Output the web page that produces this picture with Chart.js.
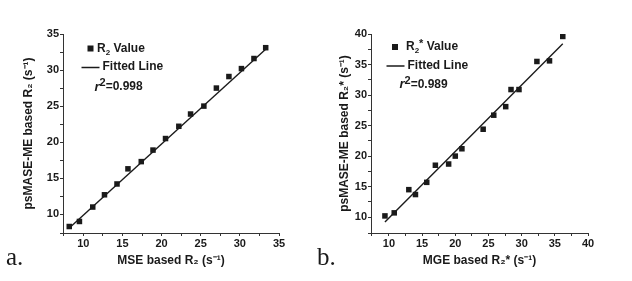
<!DOCTYPE html>
<html>
<head>
<meta charset="utf-8">
<script src="https://cdn.jsdelivr.net/npm/chart.js@4.4.1/dist/chart.umd.min.js"></script>
<style>
  html, body { margin: 0; padding: 0; background: #fff; }
  #wrap { position: relative; width: 632px; height: 281px; overflow: hidden; }
  .panel { position: absolute; top: 0; width: 316px; height: 281px; }
  .tag { position: absolute; font-family: "Liberation Serif", "DejaVu Serif", serif; font-size: 25px; color: #1a1a1a; line-height: 1; }
</style>
</head>
<body>
<div id="wrap">
  <div class="panel" style="left:0"><canvas id="chartA" width="316" height="281"></canvas></div>
  <div class="panel" style="left:316px"><canvas id="chartB" width="316" height="281"></canvas></div>
  <div class="tag" style="left:6px; top:244px">a.</div>
  <div class="tag" style="left:317px; top:244px">b.</div>
</div>
<script>
// panel a: T2 (R2) values
const mseR2 = [8.2, 9.5, 11.2, 12.7, 14.3, 15.7, 17.4, 18.9, 20.5, 22.2, 23.7, 25.4, 27.0, 28.6, 30.2, 31.8, 33.3];
const psmaseR2 = [8.3, 9.0, 11.0, 12.7, 14.2, 16.3, 17.3, 18.9, 20.5, 22.2, 23.9, 25.0, 27.5, 29.1, 30.2, 31.6, 33.1];
const fitAx = [8.2, 33.4];
const fitAy = [8.1, 33.0];

// panel b: T2* (R2*) values
const mgeR2s = [9.4, 10.8, 13.0, 14.0, 15.7, 17.0, 19.0, 20.0, 21.0, 24.2, 25.8, 27.6, 28.4, 29.6, 32.3, 34.2, 36.2];
const psmaseR2s = [10.2, 10.7, 14.5, 13.7, 15.7, 18.5, 18.7, 20.0, 21.2, 24.4, 26.7, 28.1, 30.9, 30.9, 35.5, 35.6, 39.6];
const fitBx = [9.4, 36.2];
const fitBy = [9.2, 38.4];

// tick marks every 2.5, labels every 5
const majorStep = 5;
const minorStep = 2.5;

const INK = "#1a1a1a";
const FONT = "'Liberation Sans', Arial, sans-serif";

function pts(xs, ys) {
  return xs.map((x, i) => ({ x: x, y: ys[i] }));
}

// draw a row of text pieces (sub/superscripts) left to right
function drawRich(ctx, x, y, segs) {
  ctx.save();
  ctx.textBaseline = "middle";
  ctx.textAlign = "left";
  ctx.fillStyle = INK;
  segs.forEach((s) => {
    ctx.font = (s.italic ? "italic " : "") + "bold " + (s.size || 12) + "px " + FONT;
    ctx.fillText(s.t, x, y + (s.dy || 0));
    x += ctx.measureText(s.t).width;
  });
  ctx.restore();
}

const legendPlugin = {
  id: "inLegend",
  afterDraw(chart, args, opts) {
    const ctx = chart.ctx;
    const a = chart.chartArea;
    const L = opts.at;
    ctx.save();
    ctx.fillStyle = INK;
    ctx.fillRect(a.left + L.mx - 3, a.top + L.my - 3, 6, 6);
    ctx.strokeStyle = INK;
    ctx.lineWidth = 1.5;
    ctx.beginPath();
    ctx.moveTo(a.left + L.lx0, a.top + L.ly);
    ctx.lineTo(a.left + L.lx1, a.top + L.ly);
    ctx.stroke();
    ctx.restore();
    drawRich(ctx, a.left + L.tx, a.top + L.my, opts.label);
    drawRich(ctx, a.left + L.lx1 + 3, a.top + L.ly - 0.5, [{ t: "Fitted Line" }]);
    drawRich(ctx, a.left + L.rx, a.top + L.ry, [
      { t: "r", italic: true, size: 13 },
      { t: "2", size: 11, dy: -4 },
      { t: "=" + opts.r2 },
    ]);
  },
};

function axis(min, max, title, titlePad, fit) {
  return {
    type: "linear",
    min: min,
    max: max,
    afterFit: fit,
    ticks: {
      stepSize: minorStep,
      autoSkip: false,
      maxRotation: 0,
      minRotation: 0,
      color: INK,
      padding: 1,
      font: { family: FONT, size: 11, weight: "bold" },
      callback: (v) => (Math.abs(v / majorStep - Math.round(v / majorStep)) < 1e-6 ? String(v) : ""),
    },
    grid: {
      display: true,
      drawOnChartArea: false,
      drawTicks: true,
      tickLength: 3,
      color: "#333",
    },
    border: { display: true, color: "#333", width: 1 },
    title: {
      display: true,
      text: title,
      color: INK,
      font: { family: FONT, size: 12, weight: "bold" },
      padding: titlePad,
    },
  };
}

function makeChart(id, cfg) {
  return new Chart(document.getElementById(id), {
    type: "scatter",
    data: {
      datasets: [
        {
          label: cfg.pointLabel,
          data: pts(cfg.xs, cfg.ys),
          pointStyle: "rect",
          pointRadius: 3.9,
          pointBorderWidth: 0,
          backgroundColor: INK,
          borderColor: INK,
        },
        {
          label: "Fitted Line",
          data: pts(cfg.fx, cfg.fy),
          showLine: true,
          pointRadius: 0,
          borderColor: INK,
          borderWidth: 1.4,
        },
      ],
    },
    options: {
      responsive: false,
      animation: false,
      devicePixelRatio: 1,
      layout: { padding: cfg.pad },
      plugins: {
        legend: { display: false },
        tooltip: { enabled: false },
        inLegend: cfg.legend,
      },
      scales: {
        x: axis(cfg.xmin, cfg.xmax, cfg.xtitle, { bottom: 13 }, (s) => { s.height = cfg.xh; }),
        y: axis(cfg.ymin, cfg.ymax, cfg.ytitle, { top: 21 }, (s) => { s.width = cfg.yw; }),
      },
    },
    plugins: [legendPlugin],
  });
}

makeChart("chartA", {
  pointLabel: "R2 Value",
  xs: mseR2, ys: psmaseR2, fx: fitAx, fy: fitAy,
  xmin: 7.4, xmax: 35, ymin: 7.4, ymax: 35,
  xtitle: "MSE based R\u2082 (s\u207B\u00B9)",
  ytitle: "psMASE-ME based R\u2082 (s\u207B\u00B9)",
  pad: { top: 34, right: 37, left: 0, bottom: 0 },
  xh: 48, yw: 63,
  legend: {
    at: { mx: 27.5, my: 14.5, tx: 34, lx0: 18.5, lx1: 36.5, ly: 33.5, rx: 31.5, ry: 53 },
    label: [{ t: "R" }, { t: "2", size: 8, dy: 4 }, { t: " Value" }],
    r2: "0.998",
  },
});

makeChart("chartB", {
  pointLabel: "R2* Value",
  xs: mgeR2s, ys: psmaseR2s, fx: fitBx, fy: fitBy,
  xmin: 7.3, xmax: 40, ymin: 7.4, ymax: 40,
  xtitle: "MGE based R\u2082* (s\u207B\u00B9)",
  ytitle: "psMASE-ME based R\u2082* (s\u207B\u00B9)",
  pad: { top: 34, right: 44, left: 0, bottom: 0 },
  xh: 48, yw: 55,
  legend: {
    at: { mx: 24, my: 13, tx: 35, lx0: 15.5, lx1: 33.5, ly: 32, rx: 28.5, ry: 50.5 },
    label: [{ t: "R" }, { t: "2", size: 8, dy: 4 }, { t: "*", size: 11, dy: -3 }, { t: " Value" }],
    r2: "0.989",
  },
});
</script>
</body>
</html>
